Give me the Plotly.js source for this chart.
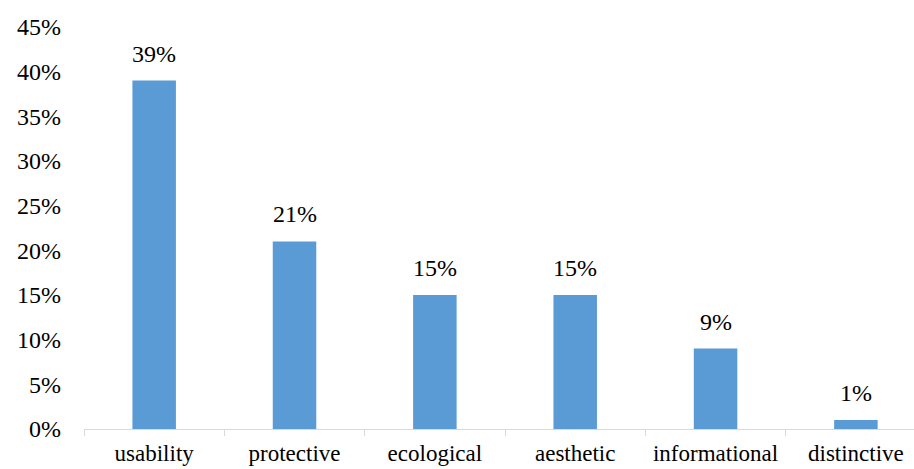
<!DOCTYPE html>
<html><head><meta charset="utf-8">
<script src="https://cdn.plot.ly/plotly-3.0.1.min.js"></script>
<style>body{margin:0}#c{width:914px;height:469px}</style>
</head><body><div id="c"></div>
<script>
var categories = ["usability","protective","ecological","aesthetic","informational","distinctive"];
var values = [0.39,0.21,0.15,0.15,0.09,0.01];
var labels = ["39%","21%","15%","15%","9%","1%"];
var yTicks = [0,0.05,0.10,0.15,0.20,0.25,0.30,0.35,0.40,0.45];
var yTickText = ["0%","5%","10%","15%","20%","25%","30%","35%","40%","45%"];

var fam = "Liberation Serif, Times New Roman, serif";
var font = {family:fam, size:24, color:"#000"};
var xfont = {family:fam, size:23, color:"#000"};
var annotations = categories.map(function(c,i){
  return {x:c, y:values[i], text:labels[i], showarrow:false, yanchor:"bottom",
    yshift:12, font:font};
});
Plotly.newPlot("c",[{
  type:"bar", x:categories, y:values, width:0.31,
  marker:{color:"#5B9BD5"}, hoverinfo:"none"
}],{
  width:914, height:469,
  margin:{l:84,r:0,t:27,b:40},
  paper_bgcolor:"#fff", plot_bgcolor:"#fff",
  showlegend:false, font:font, annotations:annotations,
  xaxis:{type:"category", range:[-0.5,5.414], tickson:"boundaries", ticks:"outside",
    ticklen:6, tickcolor:"#d9d9d9", showline:true, linecolor:"#d9d9d9", linewidth:1,
    showgrid:false, tickfont:xfont, ticklabelstandoff:3, fixedrange:true},
  yaxis:{range:[0,0.45], tickvals:yTicks, ticktext:yTickText, showgrid:false,
    zeroline:false, showline:false, ticks:"", tickfont:font, ticklabelstandoff:22, fixedrange:true}
},{displayModeBar:false, staticPlot:true});
</script></body></html>
